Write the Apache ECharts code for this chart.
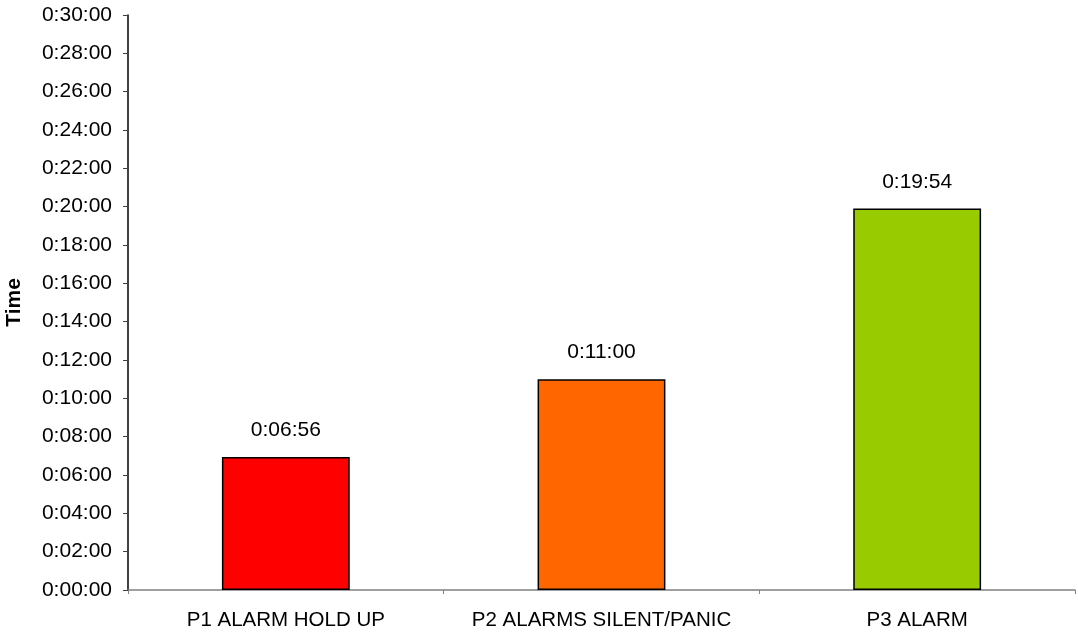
<!DOCTYPE html>
<html>
<head>
<meta charset="utf-8">
<script src="https://cdn.jsdelivr.net/npm/echarts@6/dist/echarts.min.js"></script>
<style>
html,body{margin:0;padding:0;background:#fff;}
#chart{width:1078px;height:633px;}
</style>
</head>
<body>
<div id="chart"></div>
<script>
const categories = ["P1 ALARM HOLD UP", "P2 ALARMS SILENT/PANIC", "P3 ALARM"];
const durations = ["0:06:56", "0:11:00", "0:19:54"];
const barColors = ["#FF0000", "#FF6600", "#99CC00"];
const axisName = "Time";

function toSeconds(s) {
  const p = s.split(":").map(Number);
  return p[0] * 3600 + p[1] * 60 + p[2];
}
function fmt(sec) {
  const h = Math.floor(sec / 3600);
  const m = Math.floor((sec % 3600) / 60);
  const s = Math.round(sec % 60);
  return h + ":" + String(m).padStart(2, "0") + ":" + String(s).padStart(2, "0");
}
const values = durations.map(toSeconds);

const FONT = "Liberation Sans, Arial, sans-serif";
const chart = echarts.init(document.getElementById("chart"), null, {renderer: "canvas"});
chart.setOption({
  animation: false,
  backgroundColor: "#ffffff",
  grid: {left: 128, right: 3, top: 15, bottom: 43, containLabel: false, outerBoundsMode: "none"},
  xAxis: {
    type: "category",
    data: categories,
    axisLine: {lineStyle: {color: "#808080", width: 1.5}},
    axisTick: {show: true, length: 4, lineStyle: {color: "#808080"}},
    axisLabel: {color: "#000", fontFamily: FONT, fontSize: 20.5, margin: 20, interval: 0, hideOverlap: false},
    splitLine: {show: false}
  },
  yAxis: {
    type: "value",
    min: 0,
    max: 1800,
    interval: 120,
    name: axisName,
    nameLocation: "middle",
    nameRotate: 90,
    nameGap: 103,
    nameTextStyle: {color: "#000", fontFamily: FONT, fontSize: 21, fontWeight: "bold"},
    axisLine: {show: true, lineStyle: {color: "#000", width: 1.5}},
    axisTick: {show: true, length: 5, lineStyle: {color: "#404040"}},
    axisLabel: {color: "#000", fontFamily: FONT, fontSize: 21, margin: 16, formatter: v => fmt(v)},
    splitLine: {show: false}
  },
  series: [{
    type: "bar",
    barWidth: "40.5%",
    data: values.map((v, i) => ({
      value: v,
      itemStyle: {color: barColors[i], borderColor: "#000", borderWidth: 1.5}
    })),
    label: {
      show: true,
      position: "top",
      distance: 16,
      color: "#000",
      fontFamily: FONT,
      fontSize: 21,
      formatter: p => fmt(p.value)
    }
  }]
});
</script>
</body>
</html>
